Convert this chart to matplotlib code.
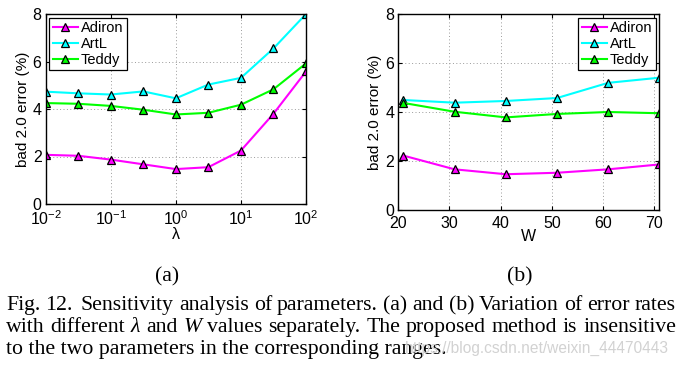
import matplotlib
matplotlib.use("Agg")
import matplotlib.pyplot as plt
import numpy as np

lam = [1e-2, 10**-1.5, 1e-1, 10**-0.5, 1e0, 10**0.5, 1e1, 10**1.5, 1e2]
lam_adiron = [2.07, 2.03, 1.87, 1.67, 1.47, 1.55, 2.25, 3.80, 5.58]
lam_artl = [4.73, 4.66, 4.61, 4.74, 4.45, 5.03, 5.31, 6.55, 8.0]
lam_teddy = [4.25, 4.22, 4.13, 3.97, 3.77, 3.84, 4.18, 4.83, 5.92]

W = [21, 31, 41, 51, 61, 71]
w_adiron = [2.22, 1.66, 1.46, 1.52, 1.66, 1.86]
w_artl = [4.49, 4.38, 4.45, 4.57, 5.19, 5.40]
w_teddy = [4.37, 4.01, 3.78, 3.92, 4.00, 3.95]

names = ["Adiron", "ArtL", "Teddy"]
colors = ["#ff00ff", "#00ffff", "#00ff00"]

caption_lines = [
    "Fig. 12.  Sensitivity analysis of parameters. (a) and (b) Variation of error rates",
    "with different λ and W values separately. The proposed method is insensitive",
    "to the two parameters in the corresponding ranges.",
]
italic_words = {"λ", "W"}
watermark = "https://blog.csdn.net/weixin_44470443"

plt.rcParams['font.family'] = ['Liberation Sans', 'DejaVu Sans']
plt.rcParams['mathtext.fontset'] = 'custom'
plt.rcParams['mathtext.rm'] = 'Liberation Sans'
plt.rcParams['mathtext.it'] = 'Liberation Sans:italic'
plt.rcParams['mathtext.default'] = 'regular'

W_PX, H_PX = 680, 367
fig = plt.figure(figsize=(6.8, 3.67), dpi=100)
ax1 = fig.add_axes([45.7 / W_PX, 1 - 204 / H_PX, (306 - 45.7) / W_PX, (204 - 14) / H_PX])
ax2 = fig.add_axes([398.3 / W_PX, 1 - 210 / H_PX, (659.3 - 398.3) / W_PX, (210 - 14) / H_PX])

def style(ax):
    ax.set_ylim(0, 8)
    ax.set_yticks([0, 2, 4, 6, 8])
    ax.tick_params(direction='in', top=True, right=True, labelsize=11.5, length=3, pad=3)
    ax.tick_params(axis='x', pad=4)
    ax.grid(True, linestyle=(0, (1, 2.5)), color='#9a9a9a', linewidth=0.7)
    for s in ax.spines.values():
        s.set_linewidth(1.0)
    ax.set_ylabel("bad 2.0 error (%)", fontsize=11, labelpad=2)

def legend(ax, loc):
    lg = ax.legend(loc=loc, fontsize=10.5, fancybox=False, edgecolor='black',
                   framealpha=1, borderaxespad=0.25, handlelength=1.7, labelspacing=0.12,
                   borderpad=0.25, handletextpad=0.2)
    lg.get_frame().set_linewidth(0.9)

for ys, n, c in zip([lam_adiron, lam_artl, lam_teddy], names, colors):
    ax1.plot(lam, ys, '-^', color=c, mfc=c, mec='black', ms=5.5, mew=0.9, lw=1.5, label=n)
ax1.set_xscale('log')
ax1.set_xlim(1e-2, 1e2)
ax1.set_xticks([1e-2, 1e-1, 1e0, 1e1, 1e2])
ax1.minorticks_off()
style(ax1)
ax1.set_xlabel("λ", fontsize=11.5, labelpad=-1)
legend(ax1, 'upper left')

for ys, n, c in zip([w_adiron, w_artl, w_teddy], names, colors):
    ax2.plot(W, ys, '-^', color=c, mfc=c, mec='black', ms=5.5, mew=0.9, lw=1.5, label=n)
ax2.set_xlim(20, 71)
ax2.set_xticks([20, 30, 40, 50, 60, 70])
style(ax2)
ax2.set_xlabel("W", fontsize=11.5, labelpad=-1)
legend(ax2, 'upper right')

serif_family = ['Liberation Serif', 'DejaVu Serif']

fig.canvas.draw()
renderer = fig.canvas.get_renderer()

def width_of(s, size, **kw):
    t = fig.text(0, 0, s, fontsize=size, family=serif_family, **kw)
    w = t.get_window_extent(renderer).width
    t.remove()
    return w

# caption font size chosen so that the last (unjustified) line spans like the reference
base = 12.0
cap_size = base * 439.0 / width_of(caption_lines[-1], base)

fig.text(167 / W_PX, 1 - 281 / H_PX, "(a)", ha='center', va='baseline',
         family=serif_family, fontsize=cap_size)
fig.text(520 / W_PX, 1 - 281 / H_PX, "(b)", ha='center', va='baseline',
         family=serif_family, fontsize=cap_size)

x0, x1 = 6, 676
baselines = [310, 332, 354]
for i, (line, yy) in enumerate(zip(caption_lines, baselines)):
    yf = 1 - yy / H_PX
    if i == len(caption_lines) - 1:
        fig.text(x0 / W_PX, yf, line, ha='left', va='baseline',
                 family=serif_family, fontsize=cap_size)
        continue
    words = [w for w in line.split(" ") if w]
    texts, widths = [], []
    for w in words:
        st = 'italic' if w in italic_words else 'normal'
        t = fig.text(0, yf, w, ha='left', va='baseline', family=serif_family,
                     fontsize=cap_size, style=st)
        texts.append(t)
        widths.append(t.get_window_extent(renderer).width)
    gaps = [1.0] * (len(texts) - 1)
    if line.startswith("Fig."):
        gaps[1] = 1.6
    space = (x1 - x0 - sum(widths)) / sum(gaps)
    x = x0
    for k, (t, wd) in enumerate(zip(texts, widths)):
        t.set_x(x / W_PX)
        if k < len(gaps):
            x += wd + space * gaps[k]

# watermark
t = fig.text(0, 0, watermark, fontsize=10)
wm_w = t.get_window_extent(renderer).width
t.remove()
fig.text(669 / W_PX, 1 - 353 / H_PX, watermark, ha='right', va='baseline',
         color='#d2d2d2', fontsize=10 * 264.0 / wm_w)

fig.savefig("out.png", dpi=100)
